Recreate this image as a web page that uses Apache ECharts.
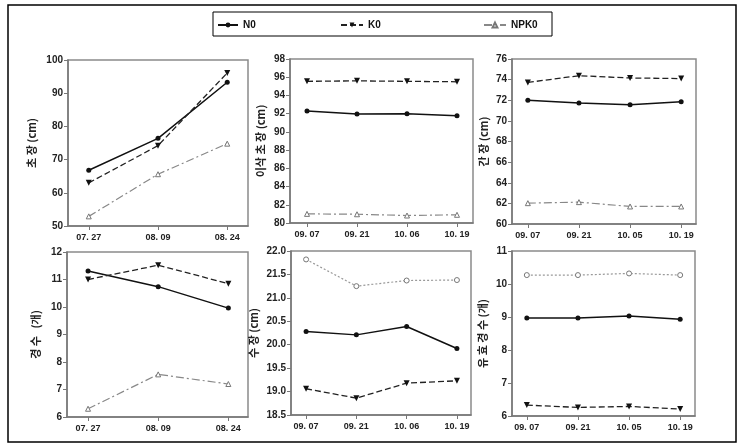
<!DOCTYPE html>
<html><head><meta charset="utf-8">
<script src="https://cdn.jsdelivr.net/npm/echarts@6/dist/echarts.min.js"></script>
<style>html,body{margin:0;padding:0;background:#fff}#c{width:749px;height:445px}</style>
</head><body><div id="c"></div>
<script>
// ---- data ----
const seriesNames = ['N0', 'K0', 'NPK0'];
const dates1 = ['07. 27', '08. 09', '08. 24'];
const dates2 = ['09. 07', '09. 21', '10. 06', '10. 19'];
const dates3 = ['09. 07', '09. 21', '10. 05', '10. 19'];

// 초장 (cm)
const plantN0 = [66.8, 76.4, 93.3];
const plantK0 = [63.0, 74.2, 96.1];
const plantNPK0 = [52.9, 65.6, 74.8];
// 이삭 초장 (cm)
const earPlantN0 = [92.3, 91.95, 91.98, 91.76];
const earPlantK0 = [95.55, 95.6, 95.55, 95.5];
const earPlantNPK0 = [81.0, 80.96, 80.82, 80.9];
// 간장 (cm)
const culmN0 = [71.99, 71.73, 71.57, 71.86];
const culmK0 = [73.73, 74.38, 74.16, 74.1];
const culmNPK0 = [62.02, 62.12, 61.7, 61.7];
// 경수 (개)
const tillerN0 = [11.31, 10.74, 9.96];
const tillerK0 = [11.0, 11.52, 10.85];
const tillerNPK0 = [6.3, 7.55, 7.2];
// 수장 (cm)
const panicleN0 = [20.28, 20.21, 20.39, 19.92];
const panicleK0 = [19.06, 18.86, 19.18, 19.23];
const panicleNPK0 = [21.82, 21.25, 21.37, 21.38];
// 유효경수 (개)
const effN0 = [8.97, 8.97, 9.03, 8.93];
const effK0 = [6.33, 6.26, 6.29, 6.21];
const effNPK0 = [10.27, 10.27, 10.32, 10.27];

const panels = [
  {title: '초 장 (cm)', cats: dates1, data: [plantN0, plantK0, plantNPK0], yMin: 50, yMax: 100, yInt: 10, dec: 0, npkDot: false,
   box: [68, 60, 180, 166], xr: [-0.3, 2.3], gap: 31},
  {title: '이삭 초 장 (cm)', cats: dates2, data: [earPlantN0, earPlantK0, earPlantNPK0], yMin: 80, yMax: 98, yInt: 2, dec: 0, npkDot: false,
   box: [290, 59, 183, 164], xr: [-0.34, 3.32], gap: 24},
  {title: '간 장 (cm)', cats: dates3, data: [culmN0, culmK0, culmNPK0], yMin: 60, yMax: 76, yInt: 2, dec: 0, npkDot: false,
   box: [512, 59, 184, 165], xr: [-0.31, 3.29], gap: 23},
  {title: '경 수   (개)', cats: dates1, data: [tillerN0, tillerK0, tillerNPK0], yMin: 6, yMax: 12, yInt: 1, dec: 0, npkDot: false,
   box: [67, 252, 181, 165], xr: [-0.3, 2.28], gap: 26},
  {title: '수 장 (cm)', cats: dates2, data: [panicleN0, panicleK0, panicleNPK0], yMin: 18.5, yMax: 22.0, yInt: 0.5, dec: 1, npkDot: true,
   box: [291, 251, 180, 164], xr: [-0.3, 3.28], gap: 32},
  {title: '유 효 경 수 (개)', cats: dates3, data: [effN0, effK0, effNPK0], yMin: 6, yMax: 11, yInt: 1, dec: 0, npkDot: true,
   box: [512, 251, 183, 165], xr: [-0.29, 3.29], gap: 24}
];

const labelFont = {fontFamily: "'Liberation Sans Narrow','Liberation Sans',Arial,sans-serif", fontWeight: 'bold', fontSize: 10, color: '#222'};
const grid = [], xAxis = [], yAxis = [], series = [];
panels.forEach((p, i) => {
  grid.push({left: p.box[0], top: p.box[1], width: p.box[2], height: p.box[3], show: true, borderColor: '#8a8a8a', borderWidth: 1.5, backgroundColor: 'transparent'});
  const idx = p.cats.map((c, k) => k);
  xAxis.push({type: 'value', gridIndex: i, min: p.xr[0], max: p.xr[1],
    axisLine: {show: true, onZero: false, lineStyle: {color: '#777', width: 1.5}},
    axisTick: {show: true, customValues: idx, length: 4, lineStyle: {color: '#777'}},
    axisLabel: Object.assign({customValues: idx, margin: 7, formatter: v => p.cats[Math.round(v)]}, labelFont, {fontSize: 9}),
    splitLine: {show: false}});
  yAxis.push({type: 'value', gridIndex: i, min: p.yMin, max: p.yMax, interval: p.yInt,
    name: p.title, nameLocation: 'middle', nameRotate: 90, nameGap: p.gap,
    nameTextStyle: {fontFamily: "'Noto Sans CJK KR',sans-serif", fontWeight: 'bold', fontSize: 11, color: '#222'},
    axisLine: {show: true, onZero: false, lineStyle: {color: '#777', width: 1.5}},
    axisTick: {show: true, length: 4, lineStyle: {color: '#777'}},
    axisLabel: Object.assign({margin: 5, formatter: v => v.toFixed(p.dec)}, labelFont),
    splitLine: {show: false}});
  const mk = arr => arr.map((v, k) => [k, v]);
  series.push({name: 'N0', type: 'line', xAxisIndex: i, yAxisIndex: i, data: mk(p.data[0]),
    symbol: 'circle', symbolSize: 5, itemStyle: {color: '#111'}, lineStyle: {color: '#111', width: 1.5, type: 'solid'}, animation: false});
  series.push({name: 'K0', type: 'line', xAxisIndex: i, yAxisIndex: i, data: mk(p.data[1]),
    symbol: 'triangle', symbolRotate: 180, symbolSize: 6, itemStyle: {color: '#111'}, lineStyle: {color: '#222', width: 1.3, type: [6, 3]}, animation: false});
  series.push({name: 'NPK0', type: 'line', xAxisIndex: i, yAxisIndex: i, data: mk(p.data[2]),
    symbol: p.npkDot ? 'circle' : 'triangle', symbolSize: 5,
    itemStyle: {color: '#fff', borderColor: '#777', borderWidth: 1},
    lineStyle: {color: p.npkDot ? '#999' : '#888', width: 1.2, type: p.npkDot ? [2, 2] : [8, 3, 2, 3]}, animation: false});
});

const legendText = {fontFamily: "'Liberation Sans Narrow','Liberation Sans',Arial,sans-serif", fontWeight: 'bold', fontSize: 10, color: '#111'};
const legend = [
  {data: ['N0'], left: 217, top: 20, itemWidth: 20, itemHeight: 6, padding: 0, textStyle: legendText, selectedMode: false},
  {data: ['K0'], left: 340, top: 20, itemWidth: 22, itemHeight: 6, padding: 0, textStyle: legendText, selectedMode: false},
  {data: ['NPK0'], left: 483, top: 20, itemWidth: 22, itemHeight: 6, padding: 0, textStyle: legendText, selectedMode: false}
];

const chart = echarts.init(document.getElementById('c'), null, {renderer: 'canvas'});
chart.setOption({
  animation: false,
  backgroundColor: '#fff',
  grid, xAxis, yAxis, series, legend,
  graphic: [
    {type: 'rect', shape: {x: 8, y: 5, width: 728, height: 437}, style: {fill: 'none', stroke: '#000', lineWidth: 1.5}, z: -1},
    {type: 'rect', shape: {x: 213, y: 12, width: 339, height: 24}, style: {fill: 'none', stroke: '#000', lineWidth: 1}, z: -1}
  ]
});
</script></body></html>
